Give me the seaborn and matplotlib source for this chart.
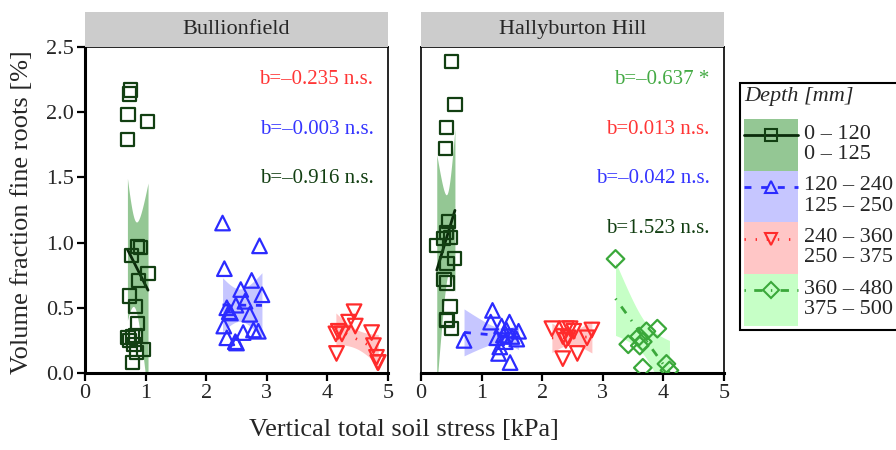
import numpy as np
import pandas as pd
import matplotlib
matplotlib.use("Agg")
import matplotlib.pyplot as plt
from matplotlib.patches import Patch, Rectangle
from matplotlib.lines import Line2D
import seaborn as sns

# ---- data: volume fraction of fine roots vs vertical total soil stress ----
sites = ["Bullionfield", "Hallyburton Hill"]
depth_labels = ["0 \u2013 120\n0 \u2013 125", "120 \u2013 240\n125 \u2013 250",
                "240 \u2013 360\n250 \u2013 375", "360 \u2013 480\n375 \u2013 500"]

bf_d1_x = [0.75, 0.74, 0.71, 1.03, 0.70, 0.86, 0.91, 0.77, 0.88, 1.04, 0.74,
           0.84, 0.86, 0.71, 0.79, 0.83, 0.73, 0.81, 0.85, 0.96, 0.79]
bf_d1_y = [2.17, 2.14, 1.98, 1.93, 1.79, 0.97, 0.96, 0.90, 0.71, 0.76, 0.59,
           0.51, 0.38, 0.27, 0.28, 0.29, 0.25, 0.22, 0.16, 0.18, 0.08]
bf_d2_x = [2.27, 2.88, 2.30, 2.75, 2.57, 2.92, 2.49, 2.64, 2.34, 2.40, 2.38,
           2.72, 2.29, 2.34, 2.48, 2.50, 2.61, 2.78, 2.86]
bf_d2_y = [1.15, 0.975, 0.80, 0.71, 0.64, 0.60, 0.52, 0.55, 0.50, 0.46, 0.47,
           0.45, 0.36, 0.27, 0.24, 0.23, 0.31, 0.33, 0.32]
bf_d3_x = [4.44, 4.35, 4.46, 4.14, 4.24, 4.18, 4.73, 4.15, 4.76, 4.81, 4.84, 4.83]
bf_d3_y = [0.47, 0.39, 0.36, 0.30, 0.30, 0.32, 0.31, 0.15, 0.21, 0.12, 0.08, 0.08]

hh_d1_x = [0.50, 0.56, 0.42, 0.40, 0.46, 0.42, 0.49, 0.37, 0.26, 0.55, 0.43,
           0.38, 0.43, 0.48, 0.42, 0.43, 0.51]
hh_d1_y = [2.39, 2.06, 1.88, 1.72, 1.16, 1.08, 1.04, 1.03, 0.98, 0.88, 0.84,
           0.72, 0.69, 0.51, 0.41, 0.40, 0.34]
hh_d2_x = [0.71, 1.18, 1.15, 1.46, 1.33, 1.61, 1.41, 1.36, 1.25, 1.58, 1.50,
           1.39, 1.30, 1.28, 1.47]
hh_d2_y = [0.25, 0.48, 0.39, 0.39, 0.36, 0.32, 0.33, 0.29, 0.27, 0.26, 0.28,
           0.24, 0.20, 0.15, 0.08]
hh_d3_x = [2.16, 2.34, 2.40, 2.46, 2.52, 2.43, 2.39, 2.82, 2.74, 2.34, 2.58]
hh_d3_y = [0.34, 0.28, 0.34, 0.34, 0.32, 0.27, 0.25, 0.33, 0.27, 0.11, 0.15]
hh_d4_x = [3.21, 3.90, 3.72, 3.60, 3.42, 3.66, 3.61, 4.05, 3.66, 4.10]
hh_d4_y = [0.875, 0.34, 0.32, 0.28, 0.22, 0.24, 0.21, 0.07, 0.04, 0.02]

# slope annotations per site (depth index, text)
bf_slopes = [(2, "b=\u20130.235 n.s."), (1, "b=\u20130.003 n.s."), (0, "b=\u20130.916 n.s.")]
hh_slopes = [(3, "b=\u20130.637 *"), (2, "b=0.013 n.s."), (1, "b=\u20130.042 n.s."), (0, "b=1.523 n.s.")]

# ---- styles ----
marker_cols = ["#123f12", "#2b2bff", "#ff2b2b", "#3aa83a"]
line_cols = ["#0b2b0b", "#2b2bff", "#ff2b2b", "#3aa83a"]
fill_cols = ["#94c794", "#c6c6ff", "#ffc6c6", "#c6ffc6"]
text_cols = ["#123f12", "#3535ff", "#ff3535", "#44aa44"]
markers = ["s", "^", "v", "D"]
msizes = [90, 110, 110, 80]
dashes = ["-", (0, (2.5, 3.5)), (0, (0.5, 3.5)), (0, (0.5, 3.0, 3.0, 3.0))]

rows = []
groups = {
    "Bullionfield": [(bf_d1_x, bf_d1_y), (bf_d2_x, bf_d2_y), (bf_d3_x, bf_d3_y)],
    "Hallyburton Hill": [(hh_d1_x, hh_d1_y), (hh_d2_x, hh_d2_y), (hh_d3_x, hh_d3_y), (hh_d4_x, hh_d4_y)],
}
for site, lst in groups.items():
    for d, (xs, ys) in enumerate(lst):
        for xv, yv in zip(xs, ys):
            rows.append({"site": site, "depth": d, "stress": xv, "roots": yv})
df = pd.DataFrame(rows)

sns.set_theme(style="white")
plt.rcParams["font.family"] = ["Liberation Serif", "DejaVu Serif"]


def t_crit(dof):
    # two-sided 95% Student t quantile (Cornish-Fisher expansion)
    z = 1.959964
    return (z + (z**3 + z) / (4 * dof) + (5 * z**5 + 16 * z**3 + 3 * z) / (96 * dof**2)
            + (3 * z**7 + 19 * z**5 + 17 * z**3 - 15 * z) / (384 * dof**3))


def fit_band(ax, x, y, d):
    """Least-squares line with its 95% confidence band over the data range."""
    x = np.asarray(x, float)
    y = np.asarray(y, float)
    n = len(x)
    b, a = np.polyfit(x, y, 1)
    grid = np.linspace(x.min(), x.max(), 100)
    pred = a + b * grid
    resid = y - (a + b * x)
    s = np.sqrt(np.sum(resid**2) / (n - 2))
    sxx = np.sum((x - x.mean())**2)
    hw = t_crit(n - 2) * s * np.sqrt(1 / n + (grid - x.mean())**2 / sxx)
    ax.fill_between(grid, pred - hw, pred + hw, color=fill_cols[d], lw=0, zorder=1)
    ax.plot(grid, pred, color=line_cols[d], lw=2, ls=dashes[d], zorder=3)
    return b


W, H = 896, 450
fig = plt.figure(figsize=(W / 100, H / 100), dpi=100)
ax_l = fig.add_axes([85 / W, 1 - 373 / H, 303 / W, 326 / H])
ax_r = fig.add_axes([421 / W, 1 - 373 / H, 303 / W, 326 / H])

for ax, site, notes in [(ax_l, sites[0], bf_slopes), (ax_r, sites[1], hh_slopes)]:
    sub = df[df.site == site]
    for d in sorted(sub.depth.unique()):
        g = sub[sub.depth == d]
        fit_band(ax, g.stress, g.roots, d)
        sns.scatterplot(data=g, x="stress", y="roots", ax=ax, marker=markers[d],
                        s=msizes[d], facecolor="none", edgecolor=marker_cols[d],
                        linewidth=1.6, zorder=4, legend=False)
    ax.set_xlim(0, 5)
    ax.set_ylim(0, 2.5)
    ax.set_xticks(range(6))
    ax.set_yticks([0, 0.5, 1.0, 1.5, 2.0, 2.5])
    ax.set_xlabel("")
    ax.set_ylabel("")
    for sp in ax.spines.values():
        sp.set_color("black")
        sp.set_linewidth(1.2)
    ax.spines["bottom"].set_linewidth(2.2)
    ax.tick_params(axis="both", direction="out", length=6, width=1.6, color="black",
                   labelsize=16, pad=2, bottom=True, left=True)
    ypos = [2.25, 1.87, 1.49, 1.11]
    for k, (d, txt) in enumerate(notes):
        ax.text(4.76, ypos[k], txt, color=text_cols[d], fontsize=15,
                ha="right", va="center", zorder=5)
    # facet strip
    pos = ax.get_position()
    fig.patches.append(Rectangle((pos.x0, pos.y1), pos.width, 35 / H,
                                 transform=fig.transFigure, facecolor="#cccccc",
                                 edgecolor="none", zorder=0))
    fig.text(pos.x0 + pos.width / 2, pos.y1 + 17.5 / H, site, ha="center", va="center",
             fontsize=16)

ax_l.spines["left"].set_linewidth(2.2)
ax_l.set_yticklabels(["0.0", "0.5", "1.0", "1.5", "2.0", "2.5"])
ax_r.tick_params(axis="y", left=False, labelleft=False)

fig.text(404 / W, 1 - 430 / H, "Vertical total soil stress [kPa]", ha="center", va="center",
         fontsize=19)
fig.text(22 / W, 1 - 212 / H, "Volume fraction fine roots [%]", ha="center", va="center",
         rotation=90, fontsize=19)

handles = []
for d in range(4):
    patch = Patch(facecolor=fill_cols[d], edgecolor="none")
    line = Line2D([], [], color=line_cols[d], lw=2, ls=dashes[d], marker=markers[d],
                  markersize=8, markerfacecolor="none", markeredgecolor=marker_cols[d],
                  markeredgewidth=1.5)
    handles.append((patch, line))
leg = fig.legend(handles, depth_labels, loc="upper left",
                 bbox_to_anchor=(740 / W, 1 - 83 / H), bbox_transform=fig.transFigure,
                 title="Depth [mm]\n", fontsize=16,
                 title_fontproperties={"style": "italic", "size": 16},
                 frameon=True, fancybox=False, edgecolor="black", framealpha=1,
                 handlelength=2.4, handleheight=3.2, labelspacing=0, handletextpad=0.3,
                 borderpad=0.2, alignment="left", borderaxespad=0)
leg.get_frame().set_linewidth(1.5)
leg.get_title().set_linespacing(0.55)
for t in leg.get_texts():
    t.set_linespacing(1.1)

fig.savefig("out.png", dpi=100)
